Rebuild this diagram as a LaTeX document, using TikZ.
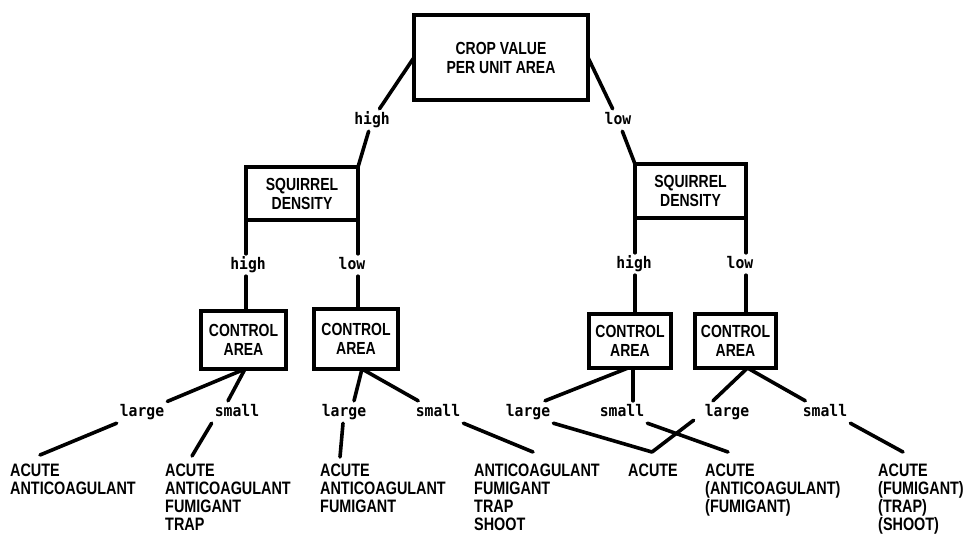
\documentclass[tikz,border=0pt]{standalone}
\usepackage{fontspec}
\newfontfamily\boxfont[FakeStretch=0.8]{Liberation Sans}
\newfontfamily\labfont[FakeStretch=0.92]{DejaVu Sans Mono}
\begin{document}
\begin{tikzpicture}[x=1pt,y=-1pt,
  box/.style={draw, line width=4pt, outer sep=0pt, align=center, inner sep=0pt,
    font={\boxfont\bfseries\fontsize{17.5}{19}\selectfont}},
  lab/.style={inner sep=3pt, text height=12pt, text depth=4pt,
    font={\labfont\bfseries\fontsize{16}{16}\selectfont}},
  leaf/.style={anchor=north west, align=left, inner sep=0pt,
    font={\boxfont\bfseries\fontsize{18}{18}\selectfont}},
  conn/.style={line width=3.6pt, line cap=round}]
\fill[white] (0,0) rectangle (974,533);
\useasboundingbox (0,0) rectangle (974,533);

% boxes
\node[box, minimum width=174pt, minimum height=85pt] (crop) at (501,57.5) {CROP VALUE\\PER UNIT AREA};
\node[box, minimum width=112pt, minimum height=53pt] (sq1) at (302,193.5) {SQUIRREL\\DENSITY};
\node[box, minimum width=111pt, minimum height=54pt] (sq2) at (690.5,191) {SQUIRREL\\DENSITY};
\node[box, minimum width=85pt, minimum height=58pt] (ct1) at (243.5,340) {CONTROL\\AREA};
\node[box, minimum width=84pt, minimum height=60pt] (ct2) at (356,339) {CONTROL\\AREA};
\node[box, minimum width=82pt, minimum height=54pt] (ct3) at (630,341) {CONTROL\\AREA};
\node[box, minimum width=81pt, minimum height=54pt] (ct4) at (735.5,341) {CONTROL\\AREA};

% branch labels
\node[lab] (h0) at (372,120) {high};
\node[lab] (l0) at (618,120) {low};
\node[lab] (h1) at (248,265) {high};
\node[lab] (l1) at (352,265) {low};
\node[lab] (h2) at (634,264) {high};
\node[lab] (l2) at (740,264) {low};
\node[lab] (lg1) at (142,412) {large};
\node[lab] (sm1) at (237,412) {small};
\node[lab] (lg2) at (344,412) {large};
\node[lab] (sm2) at (438,412) {small};
\node[lab] (lg3) at (528,412) {large};
\node[lab] (sm3) at (622,412) {small};
\node[lab] (lg4) at (727,412) {large};
\node[lab] (sm4) at (825,412) {small};

% leaves
\node[leaf] (leaf1) at (10,464) {ACUTE\\ANTICOAGULANT};
\node[leaf] (leaf2) at (165,464) {ACUTE\\ANTICOAGULANT\\FUMIGANT\\TRAP};
\node[leaf] (leaf3) at (320,464) {ACUTE\\ANTICOAGULANT\\FUMIGANT};
\node[leaf] (leaf4) at (474,464) {ANTICOAGULANT\\FUMIGANT\\TRAP\\SHOOT};
\node[leaf] (leaf5) at (628,464) {ACUTE};
\node[leaf] (leaf6) at (705,464) {ACUTE\\(ANTICOAGULANT)\\(FUMIGANT)};
\node[leaf] (leaf7) at (878,464) {ACUTE\\(FUMIGANT)\\(TRAP)\\(SHOOT)};

% free ends above leaves
\coordinate (e1) at (40,455);
\coordinate (e2) at (192,456);
\coordinate (e3) at (340,457);
\coordinate (e4) at (533,452);
\coordinate (e5) at (652,452);
\coordinate (e6) at (728,452);
\coordinate (e7) at (903,452);

% level 1
\draw[conn] (crop.west) -- (h0);
\draw[conn] (h0) -- (sq1.north east);
\draw[conn] (crop.east) -- (l0);
\draw[conn] (l0) -- (sq2.north west);

% level 2
\draw[conn] (sq1.south west) -- (sq1.south west |- h1.north);
\draw[conn] (sq1.south west |- h1.south) -- (sq1.south west |- ct1.north);
\draw[conn] (sq1.south east) -- (sq1.south east |- l1.north);
\draw[conn] (sq1.south east |- l1.south) -- (sq1.south east |- ct2.north);
\draw[conn] (sq2.south west) -- (sq2.south west |- h2.north);
\draw[conn] (sq2.south west |- h2.south) -- (sq2.south west |- ct3.north);
\draw[conn] (sq2.south east) -- (sq2.south east |- l2.north);
\draw[conn] (sq2.south east |- l2.south) -- (sq2.south east |- ct4.north);

% level 3, upper parts
\draw[conn] ([xshift=1.5pt]ct1.south) -- (lg1);
\draw[conn] ([xshift=1.5pt]ct1.south) -- ([xshift=-9pt]sm1.north);
\draw[conn] ([xshift=6pt]ct2.south) -- ([xshift=10pt]lg2.north);
\draw[conn] ([xshift=6pt]ct2.south) -- (sm2);
\draw[conn] ([xshift=-2pt]ct3.south) -- ([xshift=17pt]lg3.north);
\draw[conn] ([xshift=3pt]ct3.south) -- ([xshift=3pt]ct3.south |- sm3.north);
\draw[conn] ([xshift=12pt]ct4.south) -- ([xshift=-14pt]lg4.north);
\draw[conn] ([xshift=12pt]ct4.south) -- (sm4);

% level 3, lower parts
\draw[conn] (lg1.south west) -- (e1);
\draw[conn] (sm1.south west) -- (e2);
\draw[conn] (lg2) -- (e3);
\draw[conn] (sm2.south east) -- (e4);
\draw[conn] (lg3.south east) -- (e5);
\draw[conn] (sm3.south east) -- (e6);
\draw[conn] ([xshift=-8pt,yshift=3pt]lg4.south west) -- (e5);
\draw[conn] (sm4.south east) -- (e7);
\end{tikzpicture}
\end{document}
